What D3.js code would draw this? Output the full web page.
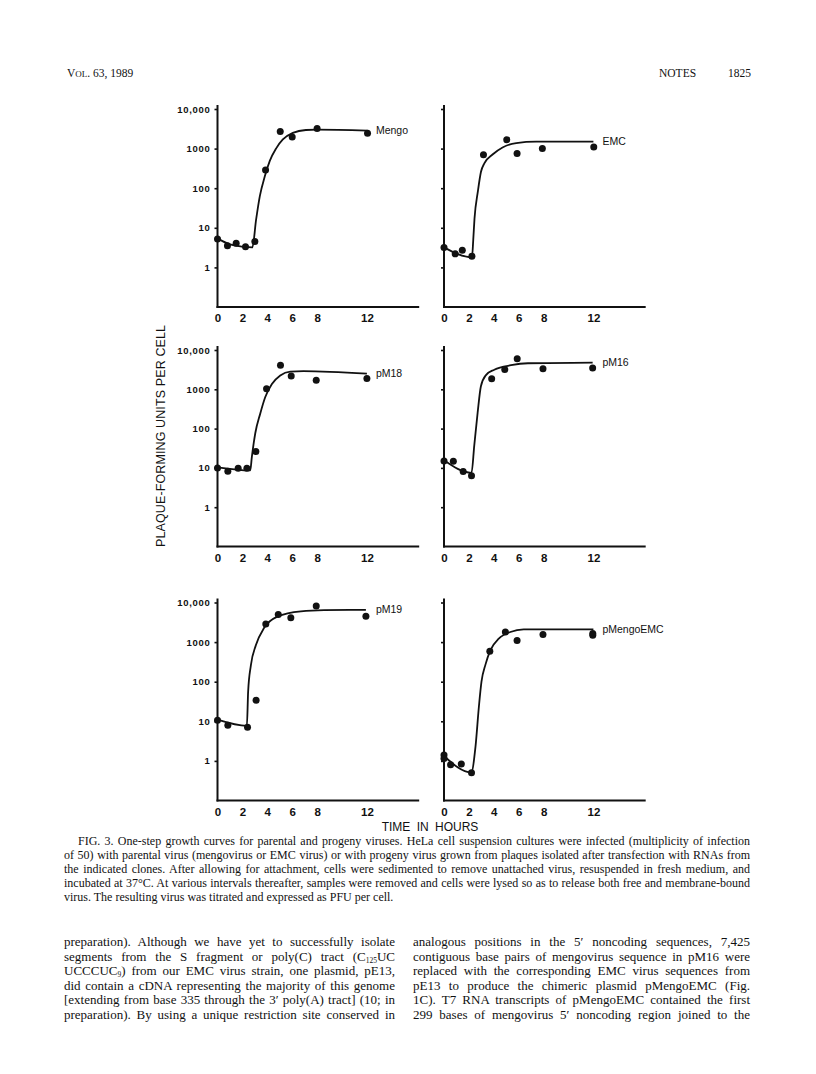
<!DOCTYPE html>
<html><head><meta charset="utf-8">
<script src="https://cdn.jsdelivr.net/npm/d3@7"></script>
<style>body{margin:0;background:#fff} svg{display:block}</style>
</head><body>
<svg id="c" width="816" height="1074"></svg>
<script>
// ---------- data ----------
const panelNames = ["Mengo", "EMC", "pM18", "pM16", "pM19", "pMengoEMC"];
const xTickValues = [0, 2, 4, 6, 8, 12];
const xTickLabels = ["0", "2", "4", "6", "8", "12"];
const yTickValues = [1, 10, 100, 1000, 10000];
const yTickLabels = ["1", "10", "100", "1000", "10,000"];

const mengoT = [0, 0.8, 1.5, 2.25, 3.0, 3.86, 5.04, 6.0, 8.0, 12.05];
const mengoV = [5.2, 3.5, 4.1, 3.3, 4.5, 290, 2700, 1950, 3200, 2450];
const mengoCurveT = [0, 1, 2, 2.8, 3.1, 3.4, 3.8, 4.2, 4.7, 5.25, 6.05, 7.1, 8, 12.05];
const mengoCurveV = [5.4, 3.8, 3.35, 3.2, 16, 63, 200, 490, 1000, 1700, 2500, 2950, 3000, 2850];

const emcT = [0, 0.9, 1.47, 2.24, 3.17, 5.04, 5.87, 7.9, 12.03];
const emcV = [3.2, 2.2, 2.7, 1.9, 700, 1680, 750, 1000, 1100];
const emcCurveT = [0, 2.25, 2.35, 2.45, 2.72, 2.97, 3.25, 3.9, 4.7, 5.8, 7.4, 12];
const emcCurveV = [3.2, 1.8, 5, 17, 83, 260, 430, 710, 1070, 1380, 1500, 1500];

const pm18T = [0, 0.83, 1.66, 2.36, 3.08, 3.94, 5.06, 5.92, 7.93, 12];
const pm18V = [10, 8.2, 9.8, 9.8, 26, 1040, 4100, 2180, 1700, 1880];
const pm18CurveT = [0, 2.63, 2.76, 3.03, 3.43, 3.83, 4.37, 5.04, 5.84, 6.9, 12];
const pm18CurveV = [10.3, 8.6, 19, 75, 240, 630, 1360, 2250, 2830, 2900, 2500];

const pm16T = [0, 0.75, 1.54, 2.21, 3.83, 4.88, 5.88, 7.95, 11.94];
const pm16V = [15, 14.7, 8.1, 6.3, 1860, 3200, 6000, 3350, 3500];
const pm16CurveT = [0, 2.21, 2.43, 2.7, 2.96, 3.37, 4.04, 5.39, 6.74, 11.94];
const pm16CurveV = [15.6, 7.5, 37, 250, 1180, 2300, 3150, 4100, 4600, 4800];

const pm19T = [0, 0.83, 2.41, 3.1, 3.88, 4.88, 5.89, 7.93, 11.92];
const pm19V = [10.6, 7.9, 7.1, 34, 2850, 5000, 4100, 8200, 4500];
const pm19CurveT = [0, 2.36, 2.46, 2.68, 3.08, 3.75, 4.82, 6.7, 8.57, 11.92];
const pm19CurveV = [11, 7.7, 56, 260, 830, 2300, 4400, 6000, 6400, 6500];

const pmeT = [0, 0, 0.53, 1.39, 2.21, 3.68, 4.93, 5.87, 7.95, 11.95, 11.95];
const pmeV = [1.4, 1.15, 0.8, 0.84, 0.5, 590, 1800, 1100, 1550, 1650, 1500];
const pmeCurveT = [0, 2.19, 2.53, 2.8, 3.01, 3.33, 3.73, 4.4, 5.33, 6.4, 12];
const pmeCurveV = [1.33, 0.51, 2.3, 23, 100, 270, 630, 1220, 1800, 2100, 2100];

const dotsT = [mengoT, emcT, pm18T, pm16T, pm19T, pmeT];
const dotsV = [mengoV, emcV, pm18V, pm16V, pm19V, pmeV];
const curveT = [mengoCurveT, emcCurveT, pm18CurveT, pm16CurveT, pm19CurveT, pmeCurveT];
const curveV = [mengoCurveV, emcCurveV, pm18CurveV, pm16CurveV, pm19CurveV, pmeCurveV];

const yAxisTitle = "PLAQUE-FORMING UNITS PER CELL";
const xAxisTitle = "TIME IN HOURS";

const captionLines = [
  "FIG. 3. One-step growth curves for parental and progeny viruses. HeLa cell suspension cultures were infected (multiplicity of infection",
  "of 50) with parental virus (mengovirus or EMC virus) or with progeny virus grown from plaques isolated after transfection with RNAs from",
  "the indicated clones. After allowing for attachment, cells were sedimented to remove unattached virus, resuspended in fresh medium, and",
  "incubated at 37°C. At various intervals thereafter, samples were removed and cells were lysed so as to release both free and membrane-bound",
  "virus. The resulting virus was titrated and expressed as PFU per cell."
];
// segments: [text, isSubscript]
const bodyLeft = [
  [["preparation). Although we have yet to successfully isolate", 0]],
  [["segments from the S fragment or poly(C) tract (C", 0], ["125", 1], ["UC", 0]],
  [["UCCCUC", 0], ["9", 1], [") from our EMC virus strain, one plasmid, pE13,", 0]],
  [["did contain a cDNA representing the majority of this genome", 0]],
  [["[extending from base 335 through the 3\u2032 poly(A) tract] (10; in", 0]],
  [["preparation). By using a unique restriction site conserved in", 0]]
];
const bodyRight = [
  [["analogous positions in the 5\u2032 noncoding sequences, 7,425", 0]],
  [["contiguous base pairs of mengovirus sequence in pM16 were", 0]],
  [["replaced with the corresponding EMC virus sequences from", 0]],
  [["pE13 to produce the chimeric plasmid pMengoEMC (Fig.", 0]],
  [["1C). T7 RNA transcripts of pMengoEMC contained the first", 0]],
  [["299 bases of mengovirus 5\u2032 noncoding region joined to the", 0]]
];

// ---------- layout ----------
const svg = d3.select("#c");
const INK = "#111";
const sans = "'Liberation Sans', Arial, Helvetica, sans-serif";
const serif = "'Liberation Serif', 'Times New Roman', serif";
const colX0 = [217.5, 444];
const pxPerHour = 12.45;
const xMax = 16.2;
const rowTop = [109, 350, 602.5];    // y of 10,000
const rowBottom = [307, 546.5, 800.5]; // y of 0.1

// justify a text element to a width by adjusting word spacing
function justify(t, width) {
  const nat = t.node().getComputedTextLength();
  const spaces = (t.text().match(/ /g) || []).length;
  if (spaces > 0 && width > nat) t.attr("word-spacing", (width - nat) / spaces);
  else if (width < nat) t.attr("textLength", width).attr("lengthAdjust", "spacingAndGlyphs");
}

// header
const hdr = svg.append("text").attr("x", 67).attr("y", 77)
  .attr("font-family", serif).attr("font-size", 11.5).attr("fill", INK);
hdr.append("tspan").text("V");
hdr.append("tspan").attr("font-size", 9).text("OL");
hdr.append("tspan").text(". 63, 1989");
svg.append("text").attr("x", 659).attr("y", 77).attr("font-family", serif)
  .attr("font-size", 11.5).attr("fill", INK).text("NOTES");
svg.append("text").attr("x", 728).attr("y", 77).attr("font-family", serif)
  .attr("font-size", 11.5).attr("fill", INK).text("1825");

panelNames.forEach((name, i) => {
  const col = i % 2, row = Math.floor(i / 2);
  const x = d3.scaleLinear().domain([0, xMax]).range([colX0[col], colX0[col] + xMax * pxPerHour]);
  const y = d3.scaleLog().domain([0.1, 10000]).range([rowBottom[row], rowTop[row]]);
  const g = svg.append("g");

  // axis lines
  g.append("line").attr("x1", x(0)).attr("x2", x(0))
    .attr("y1", y(0.1) + 1).attr("y2", y(10000) - 4)
    .attr("stroke", INK).attr("stroke-width", 2);
  g.append("line").attr("x1", x(0) - 1).attr("x2", x(xMax))
    .attr("y1", y(0.1)).attr("y2", y(0.1))
    .attr("stroke", INK).attr("stroke-width", 2);

  // y axis ticks
  const ya = d3.axisLeft(y).tickValues(yTickValues).tickSize(3).tickPadding(4)
    .tickFormat((d) => col === 0 ? yTickLabels[yTickValues.indexOf(d)] : "");
  const yg = g.append("g").attr("transform", `translate(${x(0)},0)`).call(ya);
  yg.select(".domain").remove();
  yg.selectAll(".tick line").attr("stroke", INK).attr("stroke-width", 1.6);
  yg.selectAll(".tick text").attr("font-family", sans).attr("font-weight", "bold")
    .attr("font-size", 9.5).attr("letter-spacing", 0.7).attr("fill", INK);

  // x axis labels
  const xa = d3.axisBottom(x).tickValues(xTickValues).tickSize(0).tickPadding(7)
    .tickFormat((d) => xTickLabels[xTickValues.indexOf(d)]);
  const xg = g.append("g").attr("transform", `translate(0,${y(0.1)})`).call(xa);
  xg.select(".domain").remove();
  xg.selectAll(".tick text").attr("font-family", sans).attr("font-weight", "bold")
    .attr("font-size", 11.5).attr("fill", INK);

  // curve
  const pts = curveT[i].map((t, k) => [t, curveV[i][k]]);
  const line = d3.line().x(d => x(d[0])).y(d => y(d[1])).curve(d3.curveMonotoneX);
  g.append("path").attr("d", line(pts)).attr("fill", "none")
    .attr("stroke", INK).attr("stroke-width", 1.8);

  // dots
  g.selectAll("circle.dot").data(dotsT[i].map((t, k) => [t, dotsV[i][k]]))
    .join("circle").attr("class", "dot")
    .attr("cx", d => x(d[0])).attr("cy", d => y(d[1])).attr("r", 3.5).attr("fill", INK);

  // panel label
  const last = pts[pts.length - 1];
  g.append("text").attr("x", x(12) + 9).attr("y", y(last[1]) + 3.5)
    .attr("font-family", sans).attr("font-size", 10.5).attr("fill", INK).text(name);
});

// y axis title
svg.append("text").attr("transform", "translate(164.5,436) rotate(-90)")
  .attr("text-anchor", "middle").attr("font-family", sans).attr("font-size", 12.5)
  .attr("textLength", 222).attr("lengthAdjust", "spacing")
  .attr("fill", INK).text(yAxisTitle);

// x axis title
svg.append("text").attr("x", 430).attr("y", 830.5).attr("text-anchor", "middle")
  .attr("font-family", sans).attr("font-size", 12).attr("word-spacing", 3)
  .attr("fill", INK).text(xAxisTitle);

// caption
captionLines.forEach((s, k) => {
  const x0 = k === 0 ? 78 : 64;
  const t = svg.append("text").attr("x", x0).attr("y", 844.5 + k * 14.2)
    .attr("font-family", serif).attr("font-size", 12).attr("fill", INK).text(s);
  if (k < captionLines.length - 1) justify(t, 750 - x0);
});

// body columns
function bodyCol(lines, x0, x1) {
  lines.forEach((segs, k) => {
    const t = svg.append("text").attr("x", x0).attr("y", 946 + k * 14.5)
      .attr("font-family", serif).attr("font-size", 13).attr("fill", INK);
    let shift = 0;
    segs.forEach(([s, sub]) => {
      const ts = t.append("tspan").text(s);
      if (sub) { ts.attr("font-size", 7.5); if (shift === 0) { ts.attr("dy", 2); shift = 2; } }
      else if (shift !== 0) { ts.attr("dy", -2); shift = 0; }
    });
    justify(t, x1 - x0);
  });
}
bodyCol(bodyLeft, 64, 395);
bodyCol(bodyRight, 413, 750);
</script>
</body></html>
